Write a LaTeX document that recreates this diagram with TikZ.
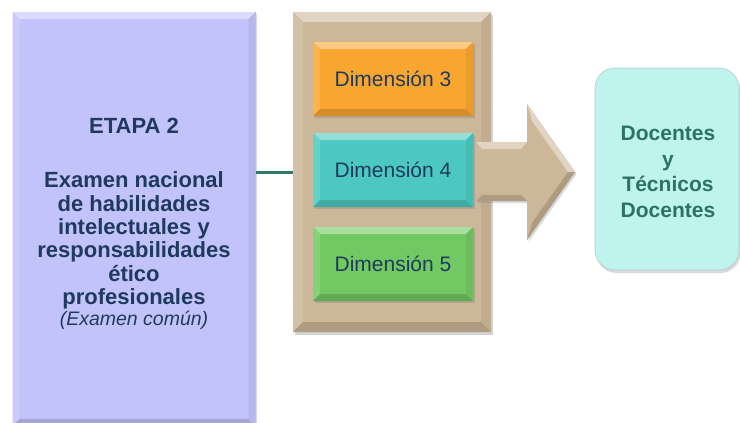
\documentclass[tikz,border=0pt]{standalone}
\usepackage{fontspec}
\setmainfont{Liberation Sans}
\usetikzlibrary{shadows,calc}
\definecolor{lav}{HTML}{C3C3FB}
\definecolor{tan}{HTML}{CDB799}
\definecolor{orng}{HTML}{F9A630}
\definecolor{teal4}{HTML}{4CC8C0}
\definecolor{grn}{HTML}{72C862}
\definecolor{aqua}{HTML}{BEF3EE}
\definecolor{navy}{HTML}{1F3A5C}
\definecolor{dteal}{HTML}{2E7262}
\definecolor{linec}{HTML}{2F7A66}
\newcommand\bevelit[3]{%
  \fill[#2!60!white] (#1.north west) -- (#1.north east) -- ([xshift=-#3,yshift=-#3]#1.north east) -- ([xshift=#3,yshift=-#3]#1.north west) -- cycle;
  \fill[#2!85!white] (#1.north west) -- (#1.south west) -- ([xshift=#3,yshift=#3]#1.south west) -- ([xshift=#3,yshift=-#3]#1.north west) -- cycle;
  \fill[#2!85!black] (#1.south west) -- (#1.south east) -- ([xshift=-#3,yshift=#3]#1.south east) -- ([xshift=#3,yshift=#3]#1.south west) -- cycle;
  \fill[#2!94!black] (#1.north east) -- (#1.south east) -- ([xshift=-#3,yshift=#3]#1.south east) -- ([xshift=-#3,yshift=-#3]#1.north east) -- cycle;
}
\begin{document}
\begin{tikzpicture}[x=1pt,y=-1pt,
  boxbase/.style={inner sep=0pt, outer sep=0pt, align=center},
  dimbox/.style={boxbase, minimum width=160pt, minimum height=74pt,
     drop shadow={shadow xshift=1.5pt, shadow yshift=-2pt, opacity=0.35}},
  dimtxt/.style={text=navy, font=\fontsize{21}{24}\selectfont},
]
\useasboundingbox (0,0) rectangle (740,423);
\begin{scope}
\clip (0,0) rectangle (740,423);
% left box
\node[boxbase, fill=lav, minimum width=243pt, minimum height=414pt, drop shadow={shadow xshift=1.5pt, shadow yshift=-2pt, opacity=0.3}] (left) at (134,219) {};
\bevelit{left}{lav}{7pt}
\end{scope}
\node[text=navy, align=center, font=\fontsize{22}{23.4}\selectfont\bfseries] (lefttxt) at (134,224)
 {ETAPA 2\\[30.5pt]Examen nacional\\de habilidades\\intelectuales y\\responsabilidades\\ético\\profesionales\\[-2.5pt]{\normalfont\itshape\fontsize{19.5}{21}\selectfont (Examen común)}};
% tan container
\node[boxbase, fill=tan, minimum width=198pt, minimum height=320pt, drop shadow={shadow xshift=1.5pt, shadow yshift=-3pt, opacity=0.35}] (cont) at (392,172) {};
\bevelit{cont}{tan}{10pt}
% connector
\draw[linec, line width=3pt] (left.east |- 0,172) -- (cont.west |- 0,172);
% arrow
\coordinate (arrA) at (476,142);
\fill[tan, drop shadow={shadow xshift=1.5pt, shadow yshift=-2pt, opacity=0.3}] (arrA) -- (527,142) -- (527,104) -- (575,172) -- (527,240) -- (527,201) -- (476,201) -- cycle;
\fill[tan!60!white] (arrA) -- (527,142) -- (521,149) -- (482,149) -- cycle;
\fill[tan!60!white] (527,104) -- (575,172) -- (568,172) -- (532,121) -- cycle;
\fill[tan!85!black] (476,201) -- (527,201) -- (521,195) -- (482,195) -- cycle;
\fill[tan!85!black] (527,240) -- (575,172) -- (568,172) -- (532,223) -- cycle;
% dimension boxes
\node[dimbox, fill=orng] (d3) at (393,79) {};
\bevelit{d3}{orng}{7pt}
\node[dimtxt] at (d3) {Dimensión 3};
\node[dimbox, fill=teal4] (d4) at (393,170) {};
\bevelit{d4}{teal4}{7pt}
\node[dimtxt] at (d4) {Dimensión 4};
\node[dimbox, fill=grn] (d5) at (393,264) {};
\bevelit{d5}{grn}{7pt}
\node[dimtxt] at (d5) {Dimensión 5};
% right box
\node[boxbase, fill=aqua, draw=aqua!70!black!60, line width=0.6pt, rounded corners=20pt, minimum width=144pt, minimum height=202pt,
  drop shadow={shadow xshift=1.5pt, shadow yshift=-3pt, opacity=0.3}] (right) at (667,169) {};
\node[text=dteal, align=center, font=\fontsize{21}{25.5}\selectfont\bfseries] at (668,172) {Docentes\\y\\Técnicos\\Docentes};
\end{tikzpicture}
\end{document}
